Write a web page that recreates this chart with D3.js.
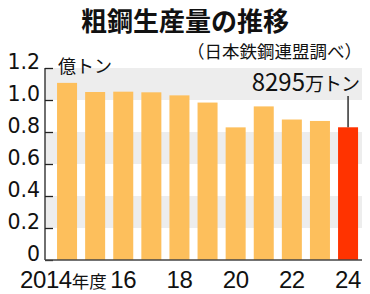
<!DOCTYPE html>
<html>
<head>
<meta charset="utf-8">
<script src="https://cdn.jsdelivr.net/npm/d3@7"></script>
<style>
  body { margin: 0; background: #fff; }
  svg { display: block; font-family: "Noto Sans CJK JP", "Noto Sans", sans-serif; }
  .num { font-family: "DejaVu Sans", "Noto Sans CJK JP", sans-serif; }
  .xnum { font-family: "Liberation Sans", "Noto Sans CJK JP", sans-serif; }
</style>
</head>
<body>
<svg id="chart" width="370" height="294"></svg>
<script>
// data (fiscal years, 100 million tonnes)
const years  = [2014, 2015, 2016, 2017, 2018, 2019, 2020, 2021, 2022, 2023, 2024];
const values = [1.107, 1.050, 1.052, 1.048, 1.029, 0.984, 0.829, 0.960, 0.878, 0.869, 0.8295];
const yTicks = [0, 0.2, 0.4, 0.6, 0.8, 1.0, 1.2];
const xLabels = { 2014: "2014", 2016: "16", 2018: "18", 2020: "20", 2022: "22", 2024: "24" };

const svg = d3.select("#chart");
const margin = { left: 45, right: 362, top: 68, bottom: 260 };

const x = d3.scaleBand().domain(years).range([45.8, 369.3]).paddingInner(0.288).paddingOuter(0.4);
const y = d3.scaleLinear().domain([0, 1.2]).range([margin.bottom, margin.top]);

// grey stripes
const stripes = [[0.2, 0.4], [0.6, 0.8], [1.0, 1.2]];
svg.append("g").selectAll("rect").data(stripes).join("rect")
  .attr("x", margin.left)
  .attr("width", margin.right - margin.left)
  .attr("y", d => y(d[1]))
  .attr("height", d => y(d[0]) - y(d[1]))
  .attr("fill", "#ededed");

// bars
svg.append("g").selectAll("rect").data(years).join("rect")
  .attr("x", d => x(d))
  .attr("width", x.bandwidth())
  .attr("y", (d, i) => y(values[i]))
  .attr("height", (d, i) => y(0) - y(values[i]))
  .attr("fill", (d, i) => i === years.length - 1 ? "#ff3300" : "#fdbf5c");

// y axis (ticks point inward)
const yAxis = svg.append("g")
  .attr("transform", `translate(${margin.left},0)`)
  .call(d3.axisRight(y).tickValues(yTicks).tickSize(8).tickFormat(""));
yAxis.select(".domain").remove();
yAxis.selectAll("line").attr("stroke", "#222").attr("stroke-width", 1.3);
svg.append("line")
  .attr("x1", margin.left).attr("x2", margin.left)
  .attr("y1", y(1.2)).attr("y2", y(0))
  .attr("stroke", "#222").attr("stroke-width", 1.3);
svg.append("line")
  .attr("x1", margin.left).attr("x2", margin.right)
  .attr("y1", y(0)).attr("y2", y(0))
  .attr("stroke", "#444").attr("stroke-width", 1.5);

svg.append("g").selectAll("text").data(yTicks).join("text")
  .attr("class", "num")
  .attr("x", 40)
  .attr("y", d => y(d) + 1)
  .attr("text-anchor", "end")
  .attr("font-size", 20.5)
  .attr("fill", "#111")
  .text(d => d === 0 ? "0" : d.toFixed(1));

// x labels
const xl = svg.append("g").selectAll("text").data(years.filter(d => xLabels[d])).join("text")
  .attr("class", "xnum")
  .attr("x", d => d === 2014 ? 20 : x(d) + x.bandwidth() / 2)
  .attr("y", 288)
  .attr("text-anchor", d => d === 2014 ? "start" : "middle")
  .attr("font-size", 24)
  .attr("letter-spacing", -0.4)
  .attr("fill", "#111")
  .text(d => xLabels[d]);
xl.filter(d => d === 2014).append("tspan")
  .style("font-family", "'Noto Sans CJK JP'")
  .attr("font-size", 17.5)
  .attr("letter-spacing", 0)
  .text("年度");

// titles
svg.append("text")
  .attr("x", 185).attr("y", 31)
  .attr("text-anchor", "middle")
  .attr("font-size", 26).attr("font-weight", "bold")
  .attr("fill", "#111")
  .text("粗鋼生産量の推移");

svg.append("text")
  .attr("x", 362).attr("y", 58)
  .attr("text-anchor", "end")
  .attr("font-size", 17.5)
  .attr("fill", "#111")
  .text("（日本鉄鋼連盟調べ）");

svg.append("text")
  .attr("x", 58).attr("y", 73)
  .attr("font-size", 18)
  .attr("fill", "#111")
  .text("億トン");

// annotation for last bar
const last = years[years.length - 1];
const lx = x(last) + x.bandwidth() / 2;
svg.append("line")
  .attr("x1", lx).attr("x2", lx)
  .attr("y1", 96).attr("y2", y(values[values.length - 1]))
  .attr("stroke", "#111").attr("stroke-width", 1.3);
const ann = svg.append("text")
  .attr("x", 359).attr("y", 91)
  .attr("text-anchor", "end")
  .attr("font-size", 24)
  .attr("fill", "#111")
  .text("8295");
ann.append("tspan")
  .attr("font-size", 19)
  .attr("letter-spacing", -1)
  .text("万トン");
</script>
</body>
</html>
